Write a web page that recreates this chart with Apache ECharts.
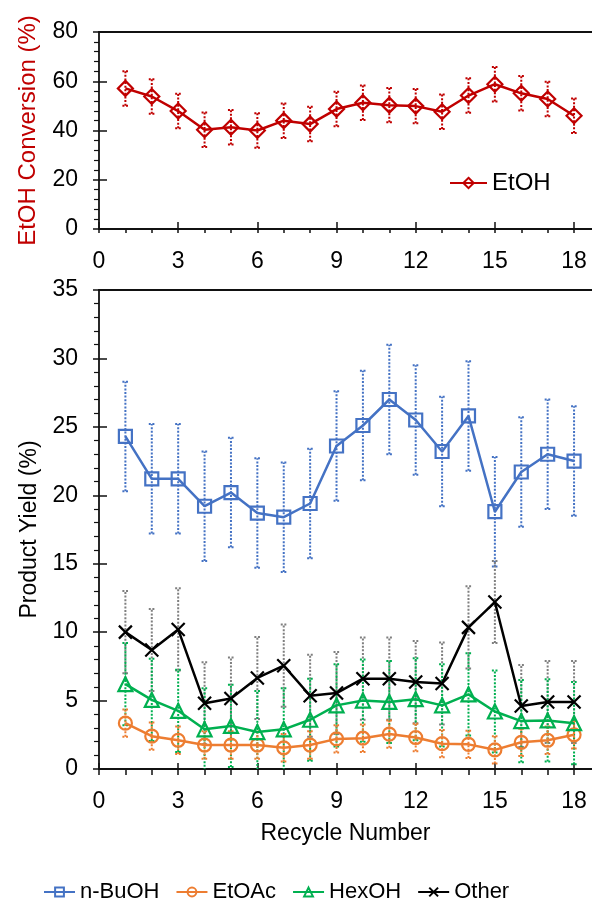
<!DOCTYPE html>
<html>
<head>
<meta charset="utf-8">
<script src="https://cdn.jsdelivr.net/npm/echarts@6/dist/echarts.min.js"></script>
<style>
  html, body { margin: 0; padding: 0; background: #fff; }
  #chart { width: 592px; height: 898px; }
</style>
</head>
<body>
<div id="chart"></div>
<script>
// Recycle runs
const cycles = [1, 2, 3, 4, 5, 6, 7, 8, 9, 10, 11, 12, 13, 14, 15, 16, 17, 18];
const xTickLabels = [0, 3, 6, 9, 12, 15, 18];
const xMinorTicks = [0, 1, 2, 3, 4, 5, 6, 7, 8, 9, 10, 11, 12, 13, 14, 15, 16, 17, 18];

// EtOH conversion (%) and its error
const etohConv = [57.1, 53.8, 47.9, 40.3, 41.3, 40.0, 44.0, 42.6, 48.7, 51.3, 50.3, 49.9, 47.6, 54.2, 58.8, 55.1, 52.8, 46.0];
const etohErr  = [7, 7, 7, 7, 7, 7, 7, 7, 7, 7, 7, 7, 7, 7, 7, 7, 7, 7];

// Product yields (%) and their errors
const buoh  = [24.3, 21.2, 21.2, 19.2, 20.2, 18.7, 18.4, 19.4, 23.6, 25.1, 27.0, 25.5, 23.2, 25.8, 18.8, 21.7, 23.0, 22.5];
const buohErr = [4, 4, 4, 4, 4, 4, 4, 4, 4, 4, 4, 4, 4, 4, 4, 4, 4, 4];
const etoac = [3.35, 2.4, 2.1, 1.75, 1.75, 1.75, 1.55, 1.75, 2.2, 2.25, 2.55, 2.3, 1.85, 1.8, 1.4, 1.95, 2.1, 2.5];
const etoacErr = [1, 1, 1, 1, 1, 1, 1, 1, 1, 1, 1, 1, 1, 1, 1, 1, 1, 1];
const hexoh = [6.2, 5.05, 4.25, 2.9, 3.15, 2.7, 2.9, 3.6, 4.65, 5.0, 4.9, 5.1, 4.65, 5.45, 4.2, 3.5, 3.55, 3.35];
const hexohErr = [3, 3, 3, 3, 3, 3, 3, 3, 3, 3, 3, 3, 3, 3, 3, 3, 3, 3];
const other = [10.0, 8.7, 10.2, 4.8, 5.15, 6.65, 7.55, 5.35, 5.55, 6.6, 6.6, 6.35, 6.25, 10.35, 12.2, 4.6, 4.9, 4.9];
const otherErr = [3, 3, 3, 3, 3, 3, 3, 3, 3, 3, 3, 3, 3, 3, 3, 3, 3, 3];

const FONT = '"Liberation Sans", Arial, sans-serif';
const AXIS = '#111';
const X_MAX = 18.68;

const pairs = (vals) => cycles.map((c, i) => [c, vals[i]]);
const errRows = (vals, errs) => cycles.map((c, i) => [c, vals[i] - errs[i], vals[i] + errs[i]]);

function errorBars(color) {
  return function (params, api) {
    const x = api.value(0);
    const lo = api.coord([x, api.value(1)]);
    const hi = api.coord([x, api.value(2)]);
    const style = { stroke: color, lineWidth: 2, lineDash: [2, 1.6], fill: null };
    const cap = 3;
    return {
      type: 'group',
      children: [
        { type: 'line', shape: { x1: lo[0], y1: lo[1], x2: hi[0], y2: hi[1] }, style },
        { type: 'line', shape: { x1: lo[0] - cap, y1: lo[1], x2: lo[0] + cap, y2: lo[1] }, style },
        { type: 'line', shape: { x1: hi[0] - cap, y1: hi[1], x2: hi[0] + cap, y2: hi[1] }, style }
      ]
    };
  };
}

function xAxesFor(gridIndex, outLen, inLen, extra) {
  return [
    Object.assign({
      gridIndex, type: 'value', min: 0, max: X_MAX, position: 'bottom',
      axisLine: { show: true, lineStyle: { color: AXIS, width: 1.8 } },
      axisTick: { show: true, customValues: xMinorTicks, length: outLen, lineStyle: { color: AXIS, width: 1.5 } },
      axisLabel: { customValues: xTickLabels, fontSize: 23, color: '#000', fontFamily: FONT, margin: 21 },
      splitLine: { show: false }
    }, extra || {}),
    {
      gridIndex, type: 'value', min: 0, max: X_MAX, position: 'bottom',
      axisLine: { show: false },
      axisTick: { show: true, inside: true, customValues: xTickLabels, length: inLen, lineStyle: { color: AXIS, width: 1.5 } },
      axisLabel: { show: false }, splitLine: { show: false }
    },
    {
      gridIndex, type: 'value', min: 0, max: X_MAX, position: 'top',
      axisLine: { show: true, lineStyle: { color: AXIS, width: 1.8 } },
      axisTick: { show: false }, axisLabel: { show: false }, splitLine: { show: false }
    }
  ];
}

function yAxesFor(gridIndex, max, interval, name, nameStyle, nameGap) {
  return [
    {
      gridIndex, type: 'value', min: 0, max, interval, position: 'left',
      name, nameLocation: 'middle', nameGap,
      nameTextStyle: Object.assign({ fontFamily: FONT }, nameStyle),
      axisLine: { show: true, lineStyle: { color: AXIS, width: 1.8 } },
      axisTick: { show: true, length: 6, lineStyle: { color: AXIS, width: 1.5 } },
      minorTick: { show: true, splitNumber: 5, length: 5, lineStyle: { color: AXIS, width: 1.2 } },
      axisLabel: { fontSize: 23, color: '#000', fontFamily: FONT, margin: 21 },
      splitLine: { show: false }
    },
    {
      gridIndex, type: 'value', min: 0, max, interval, position: 'left',
      axisLine: { show: false },
      axisTick: { show: true, inside: true, length: 8, lineStyle: { color: AXIS, width: 1.5 } },
      axisLabel: { show: false }, splitLine: { show: false }
    }
  ];
}

function lineSeries(name, vals, color, symbol, size, xi, yi) {
  return {
    name, type: 'line', xAxisIndex: xi, yAxisIndex: yi, data: pairs(vals),
    symbol, symbolSize: size, z: 5,
    lineStyle: { color, width: 2.5 },
    itemStyle: { color: 'rgba(255,255,255,0)', borderColor: color, borderWidth: 2.2 },
    emphasis: { disabled: true }
  };
}

function errSeries(vals, errs, color, xi, yi) {
  return {
    type: 'custom', xAxisIndex: xi, yAxisIndex: yi, data: errRows(vals, errs),
    encode: { x: 0, y: [1, 2] }, renderItem: errorBars(color), clip: true, z: 2,
    silent: true
  };
}

const chart = echarts.init(document.getElementById('chart'), null, { renderer: 'canvas' });

chart.setOption({
  animation: false,
  backgroundColor: '#fff',
  textStyle: { fontFamily: FONT },
  grid: [
    { left: 99, right: 0, top: 32, height: 197 },
    { left: 99, right: 0, top: 290, height: 479 }
  ],
  xAxis: [
    ...xAxesFor(0, 4, 7),
    ...xAxesFor(1, 6, 6, {
      name: 'Recycle Number', nameLocation: 'middle', nameGap: 53,
      nameTextStyle: { fontSize: 23, color: '#000', fontFamily: FONT },
      axisLabel: { customValues: xTickLabels, fontSize: 23, color: '#000', fontFamily: FONT, margin: 21 }
    })
  ],
  yAxis: [
    ...yAxesFor(0, 80, 20, 'EtOH Conversion (%)', { fontSize: 24, color: '#C00000' }, 59),
    ...yAxesFor(1, 35, 5, 'Product Yield (%)', { fontSize: 23, color: '#000' }, 50)
  ],
  legend: [
    {
      data: ['EtOH'], left: 444, top: 166, itemWidth: 37, itemHeight: 13, itemGap: 6,
      textStyle: { fontSize: 24, color: '#000', fontFamily: FONT }, selectedMode: false
    },
    {
      data: ['n-BuOH', 'EtOAc', 'HexOH', 'Other'], left: 38, top: 876,
      itemWidth: 31, itemHeight: 11, itemGap: 16,
      textStyle: { fontSize: 22, color: '#000', fontFamily: FONT }, selectedMode: false
    }
  ],
  series: [
    errSeries(etohConv, etohErr, '#C00000', 0, 0),
    lineSeries('EtOH', etohConv, '#C00000', 'diamond', 15, 0, 0),

    errSeries(buoh, buohErr, '#4472C4', 3, 2),
    errSeries(other, otherErr, '#7F7F7F', 3, 2),
    errSeries(hexoh, hexohErr, '#00B050', 3, 2),
    errSeries(etoac, etoacErr, '#ED7D31', 3, 2),
    lineSeries('n-BuOH', buoh, '#4472C4', 'rect', 13, 3, 2),
    lineSeries('EtOAc', etoac, '#ED7D31', 'circle', 13, 3, 2),
    lineSeries('HexOH', hexoh, '#00B050', 'triangle', 14, 3, 2),
    lineSeries('Other', other, '#000000', 'path://M0,0L10,10M10,0L0,10', 13, 3, 2)
  ]
});
</script>
</body>
</html>
